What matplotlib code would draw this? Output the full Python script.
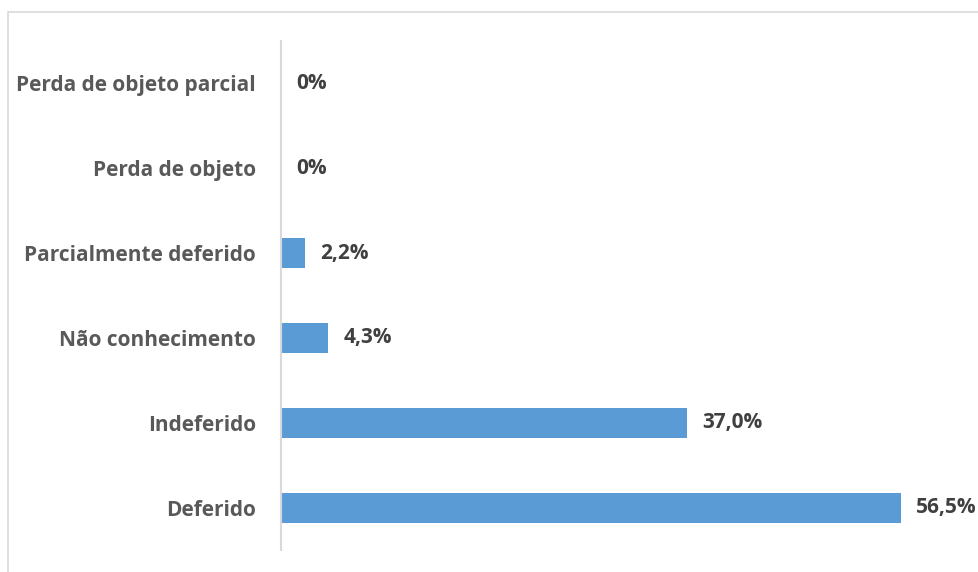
import matplotlib.pyplot as plt
from matplotlib.patches import Rectangle

categories = ['Deferido', 'Indeferido', 'Não conhecimento', 'Parcialmente deferido',
              'Perda de objeto', 'Perda de objeto parcial']
values = [56.5, 37.0, 4.3, 2.2, 0, 0]
labels = ['56,5%', '37,0%', '4,3%', '2,2%', '0%', '0%']

W, H = 979, 572
fig = plt.figure(figsize=(W / 100, H / 100), dpi=100)
plt.rcParams['font.family'] = ['Open Sans', 'DejaVu Sans']

# outer chart frame (partly cropped in the reference)
fig.patches.append(Rectangle((8 / W, -0.1), 1.2, (H - 12) / H + 0.1,
                             transform=fig.transFigure, fill=False,
                             edgecolor='#D9D9D9', linewidth=1.2))

ax = fig.add_axes([281 / W, 1 - 550 / H, (W - 281) / W, (550 - 41) / H])
ypos = range(len(categories))
ax.barh(ypos, values, height=0.355, color='#5B9BD5')
ax.set_xlim(0, (W - 281) / 10.97)
ax.set_ylim(-0.5, len(categories) - 0.5)

for y, v, lab in zip(ypos, values, labels):
    ax.annotate(lab, (v, y), xytext=(15, 0), textcoords='offset pixels',
                va='center', ha='left', fontsize=15, fontweight='bold', color='#404040')

ax.set_yticks(list(ypos))
ax.set_yticklabels(categories, fontsize=15, fontweight='bold', color='#595959')
ax.tick_params(axis='y', length=0, pad=18)
ax.set_xticks([])
for s in ['top', 'right', 'bottom']:
    ax.spines[s].set_visible(False)
ax.spines['left'].set_color('#D9D9D9')
ax.spines['left'].set_linewidth(1.5)

fig.savefig('out.png', dpi=100)
